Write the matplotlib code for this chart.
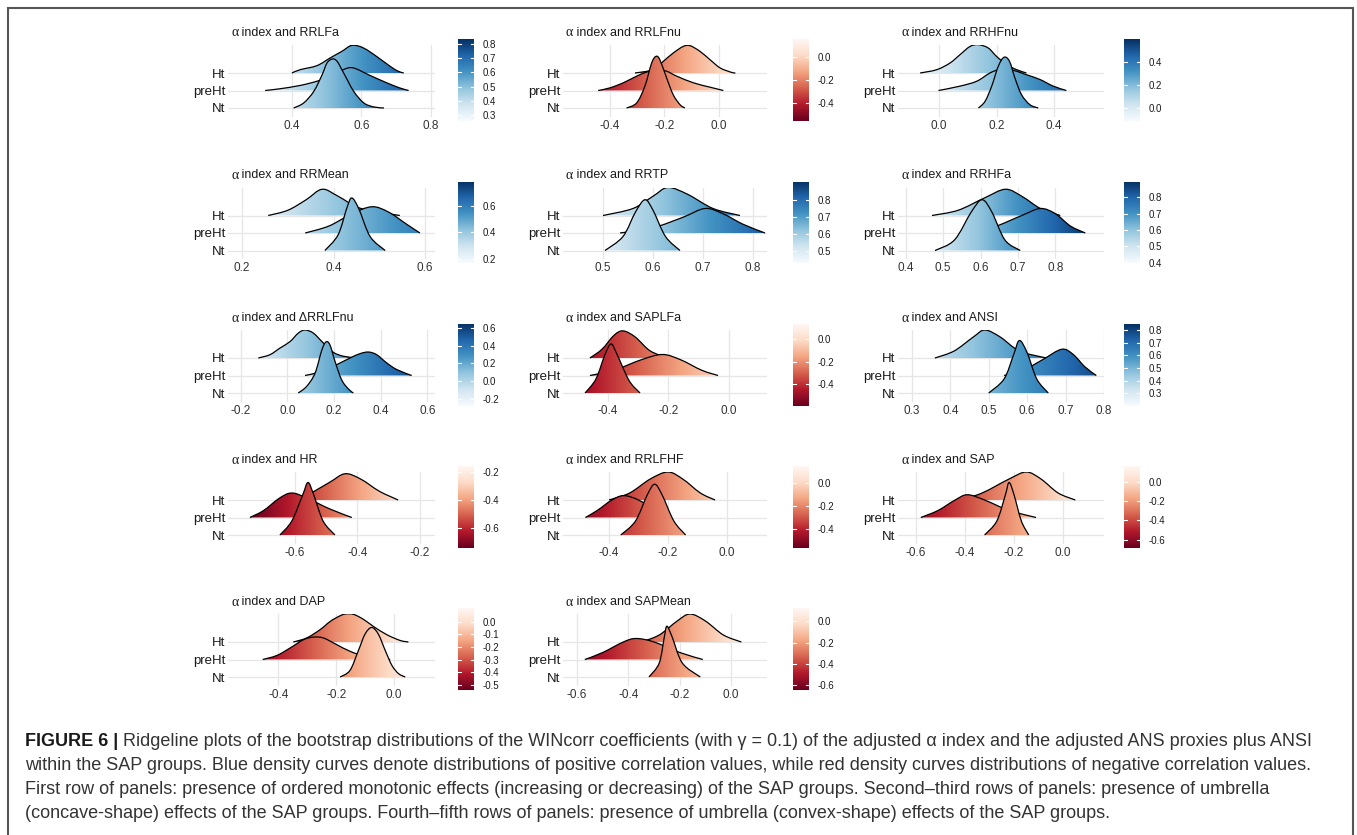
import numpy as np
import matplotlib
matplotlib.use('Agg')
import matplotlib.pyplot as plt
from matplotlib.path import Path
from matplotlib.patches import PathPatch, Rectangle
from matplotlib.colors import Normalize, LinearSegmentedColormap

plt.rcParams['font.family'] = ['Liberation Sans', 'DejaVu Sans']
plt.rcParams['axes.unicode_minus'] = False

# ---- data: (x, relative height) points ----
RRLFa_Ht = [(0.400, 0), (0.424, 0.19), (0.472, 0.42), (0.510, 0.86), (0.544, 1.24), (0.573, 1.58),
            (0.606, 1.43), (0.645, 0.93), (0.683, 0.38), (0.706, 0.10), (0.722, 0)]
RRLFa_preHt = [(0.323, 0), (0.366, 0.10), (0.424, 0.29), (0.472, 0.53), (0.520, 0.85), (0.549, 1.20),
               (0.577, 1.29), (0.625, 0.86), (0.673, 0.44), (0.710, 0.15), (0.736, 0)]
RRLFa_Nt = [(0.405, 0), (0.434, 0.29), (0.463, 0.95), (0.487, 1.90), (0.501, 2.57), (0.516, 2.80),
            (0.530, 2.67), (0.549, 2.00), (0.578, 0.95), (0.607, 0.29), (0.636, 0.06), (0.665, 0)]

RRLFnu_Ht = [(-0.308, 0), (-0.241, 0.19), (-0.204, 0.67), (-0.168, 1.14), (-0.131, 1.52), (-0.106, 1.56),
             (-0.070, 1.24), (-0.033, 0.76), (0.004, 0.29), (0.045, 0.04), (0.060, 0)]
RRLFnu_preHt = [(-0.443, 0), (-0.400, 0.15), (-0.351, 0.44), (-0.302, 0.82), (-0.266, 1.05), (-0.229, 1.2),
                (-0.192, 1.1), (-0.155, 0.82), (-0.094, 0.44), (-0.033, 0.19), (0.016, 0)]
RRLFnu_Nt = [(-0.339, 0), (-0.302, 0.29), (-0.272, 1.24), (-0.247, 2.57), (-0.231, 2.95), (-0.217, 2.76),
             (-0.192, 1.71), (-0.168, 0.76), (-0.143, 0.19), (-0.125, 0)]

RRHFnu_Ht = [(-0.066, 0), (-0.008, 0.19), (0.038, 0.57), (0.073, 1.05), (0.108, 1.52), (0.137, 1.62),
             (0.171, 1.43), (0.200, 0.95), (0.235, 0.48), (0.270, 0.19), (0.304, 0)]
RRHFnu_preHt = [(-0.002, 0), (0.073, 0.25), (0.131, 0.53), (0.177, 1.0), (0.212, 1.2), (0.258, 1.15),
                (0.304, 0.9), (0.351, 0.63), (0.397, 0.25), (0.443, 0)]
RRHFnu_Nt = [(0.137, 0), (0.160, 0.38), (0.183, 1.24), (0.206, 2.38), (0.226, 2.9), (0.245, 2.67),
             (0.264, 1.71), (0.287, 0.76), (0.316, 0.19), (0.345, 0)]

RRMean_Ht = [(0.257, 0), (0.30, 0.3), (0.34, 0.9), (0.375, 1.5), (0.41, 1.1), (0.46, 0.4), (0.545, 0)]
RRMean_preHt = [(0.338, 0), (0.39, 0.4), (0.44, 1.1), (0.484, 1.5), (0.52, 1.2), (0.56, 0.5), (0.589, 0)]
RRMean_Nt = [(0.381, 0), (0.41, 0.9), (0.43, 2.5), (0.44, 3.0), (0.455, 2.4), (0.48, 0.8), (0.513, 0)]

RRTP_Ht = [(0.50, 0), (0.56, 0.4), (0.60, 1.1), (0.63, 1.6), (0.67, 1.2), (0.72, 0.4), (0.774, 0)]
RRTP_preHt = [(0.534, 0), (0.60, 0.3), (0.66, 0.9), (0.704, 1.4), (0.74, 1.1), (0.78, 0.5), (0.824, 0)]
RRTP_Nt = [(0.504, 0), (0.54, 0.8), (0.565, 2.2), (0.584, 2.9), (0.60, 2.3), (0.625, 0.8), (0.654, 0)]

RRHFa_Ht = [(0.47, 0), (0.54, 0.3), (0.61, 1.0), (0.666, 1.5), (0.71, 1.1), (0.76, 0.4), (0.813, 0)]
RRHFa_preHt = [(0.558, 0), (0.63, 0.3), (0.71, 1.0), (0.76, 1.4), (0.80, 1.1), (0.84, 0.4), (0.88, 0)]
RRHFa_Nt = [(0.478, 0), (0.53, 0.6), (0.575, 2.2), (0.604, 2.9), (0.63, 2.2), (0.665, 0.6), (0.706, 0)]

dRRLFnu_Ht = [(-0.124, 0), (-0.074, 0.19), (-0.031, 0.57), (0.012, 0.94), (0.047, 1.42), (0.076, 1.6),
              (0.112, 1.42), (0.155, 0.85), (0.198, 0.32), (0.241, 0.1), (0.298, 0)]
dRRLFnu_preHt = [(0.076, 0), (0.126, 0.15), (0.169, 0.35), (0.212, 0.62), (0.269, 1.0), (0.312, 1.25),
                 (0.348, 1.34), (0.383, 1.19), (0.426, 0.72), (0.469, 0.34), (0.533, 0)]
dRRLFnu_Nt = [(0.047, 0), (0.083, 0.38), (0.119, 1.13), (0.148, 2.45), (0.166, 2.92), (0.183, 2.74),
              (0.205, 1.79), (0.233, 0.75), (0.262, 0.23), (0.283, 0)]

SAPLFa_Ht = [(-0.46, 0), (-0.42, 0.5), (-0.38, 1.3), (-0.35, 1.55), (-0.31, 1.2), (-0.26, 0.4), (-0.20, 0)]
SAPLFa_preHt = [(-0.46, 0), (-0.38, 0.3), (-0.29, 0.9), (-0.22, 1.2), (-0.16, 0.9), (-0.09, 0.3), (-0.036, 0)]
SAPLFa_Nt = [(-0.476, 0), (-0.44, 0.8), (-0.41, 2.2), (-0.39, 2.8), (-0.37, 2.2), (-0.33, 0.7), (-0.294, 0)]

ANSI_Ht = [(0.36, 0), (0.41, 0.4), (0.46, 1.2), (0.49, 1.6), (0.53, 1.2), (0.58, 0.4), (0.65, 0)]
ANSI_preHt = [(0.54, 0), (0.59, 0.3), (0.64, 0.9), (0.69, 1.5), (0.72, 1.2), (0.75, 0.5), (0.78, 0)]
ANSI_Nt = [(0.50, 0), (0.54, 0.8), (0.565, 2.2), (0.58, 3.0), (0.60, 2.3), (0.625, 0.8), (0.655, 0)]

HR_Ht = [(-0.616, 0), (-0.56, 0.3), (-0.49, 1.0), (-0.44, 1.5), (-0.39, 1.2), (-0.33, 0.5), (-0.27, 0)]
HR_preHt = [(-0.744, 0), (-0.70, 0.4), (-0.65, 1.1), (-0.61, 1.4), (-0.56, 1.1), (-0.49, 0.5), (-0.418, 0)]
HR_Nt = [(-0.648, 0), (-0.61, 0.8), (-0.575, 2.3), (-0.558, 3.0), (-0.54, 2.3), (-0.51, 0.8), (-0.472, 0)]

RRLFHF_Ht = [(-0.40, 0), (-0.33, 0.4), (-0.26, 1.2), (-0.20, 1.6), (-0.15, 1.2), (-0.09, 0.4), (-0.04, 0)]
RRLFHF_preHt = [(-0.48, 0), (-0.44, 0.4), (-0.39, 1.0), (-0.35, 1.25), (-0.30, 1.0), (-0.24, 0.4), (-0.19, 0)]
RRLFHF_Nt = [(-0.36, 0), (-0.31, 0.8), (-0.27, 2.3), (-0.245, 2.9), (-0.22, 2.3), (-0.18, 0.8), (-0.14, 0)]

SAP_Ht = [(-0.42, 0), (-0.33, 0.4), (-0.22, 1.2), (-0.15, 1.6), (-0.09, 1.2), (-0.02, 0.4), (0.05, 0)]
SAP_preHt = [(-0.58, 0), (-0.51, 0.4), (-0.44, 1.0), (-0.39, 1.3), (-0.32, 1.0), (-0.22, 0.4), (-0.11, 0)]
SAP_Nt = [(-0.32, 0), (-0.27, 0.8), (-0.235, 2.3), (-0.22, 3.0), (-0.20, 2.3), (-0.17, 0.8), (-0.14, 0)]

DAP_Ht = [(-0.348, 0), (-0.302, 0.23), (-0.256, 0.7), (-0.221, 1.17), (-0.192, 1.45), (-0.169, 1.6),
          (-0.140, 1.58), (-0.106, 1.3), (-0.071, 0.89), (-0.025, 0.42), (0.021, 0.09), (0.050, 0)]
DAP_preHt = [(-0.454, 0), (-0.405, 0.23), (-0.359, 0.66), (-0.313, 1.13), (-0.279, 1.28), (-0.244, 1.23),
             (-0.198, 0.85), (-0.152, 0.47), (-0.094, 0.15), (-0.013, 0)]
DAP_Nt = [(-0.186, 0), (-0.152, 0.38), (-0.123, 1.51), (-0.100, 2.45), (-0.077, 2.83), (-0.054, 2.45),
          (-0.030, 1.51), (-0.007, 0.66), (0.016, 0.19), (0.039, 0)]

SAPMean_Ht = [(-0.35, 0), (-0.28, 0.4), (-0.21, 1.2), (-0.16, 1.6), (-0.10, 1.2), (-0.03, 0.4), (0.04, 0)]
SAPMean_preHt = [(-0.57, 0), (-0.50, 0.4), (-0.42, 1.0), (-0.37, 1.2), (-0.30, 1.0), (-0.20, 0.4), (-0.11, 0)]
SAPMean_Nt = [(-0.32, 0), (-0.28, 0.8), (-0.26, 2.3), (-0.25, 2.9), (-0.23, 2.3), (-0.19, 0.8), (-0.12, 0)]

titles = ['RRLFa', 'RRLFnu', 'RRHFnu', 'RRMean', 'RRTP', 'RRHFa', '\u0394RRLFnu', 'SAPLFa', 'ANSI',
          'HR', 'RRLFHF', 'SAP', 'DAP', 'SAPMean']
curves = [
    (RRLFa_Ht, RRLFa_preHt, RRLFa_Nt), (RRLFnu_Ht, RRLFnu_preHt, RRLFnu_Nt),
    (RRHFnu_Ht, RRHFnu_preHt, RRHFnu_Nt), (RRMean_Ht, RRMean_preHt, RRMean_Nt),
    (RRTP_Ht, RRTP_preHt, RRTP_Nt), (RRHFa_Ht, RRHFa_preHt, RRHFa_Nt),
    (dRRLFnu_Ht, dRRLFnu_preHt, dRRLFnu_Nt), (SAPLFa_Ht, SAPLFa_preHt, SAPLFa_Nt),
    (ANSI_Ht, ANSI_preHt, ANSI_Nt), (HR_Ht, HR_preHt, HR_Nt),
    (RRLFHF_Ht, RRLFHF_preHt, RRLFHF_Nt), (SAP_Ht, SAP_preHt, SAP_Nt),
    (DAP_Ht, DAP_preHt, DAP_Nt), (SAPMean_Ht, SAPMean_preHt, SAPMean_Nt),
]
positive = [True, False, True, True, True, True, True, False, True, False, False, False, False, False]
x_limits = [(0.216, 0.812), (-0.572, 0.176), (-0.143, 0.574), (0.169, 0.622), (0.42, 0.828),
            (0.379, 0.93), (-0.254, 0.633), (-0.549, 0.126), (0.264, 0.795), (-0.814, -0.152),
            (-0.556, 0.136), (-0.673, 0.167), (-0.574, 0.142), (-0.655, 0.14)]
x_ticks = [[0.4, 0.6, 0.8], [-0.4, -0.2, 0.0], [0.0, 0.2, 0.4], [0.2, 0.4, 0.6], [0.5, 0.6, 0.7, 0.8],
           [0.4, 0.5, 0.6, 0.7, 0.8], [-0.2, 0.0, 0.2, 0.4, 0.6], [-0.4, -0.2, 0.0],
           [0.3, 0.4, 0.5, 0.6, 0.7, 0.8], [-0.6, -0.4, -0.2], [-0.4, -0.2, 0.0],
           [-0.6, -0.4, -0.2, 0.0], [-0.4, -0.2, 0.0], [-0.6, -0.4, -0.2, 0.0]]
cbar_limits = [(0.257, 0.836), (-0.564, 0.164), (-0.113, 0.6), (0.17, 0.778), (0.43, 0.905),
               (0.394, 0.897), (-0.28, 0.646), (-0.59, 0.13), (0.2, 0.847), (-0.74, -0.158),
               (-0.56, 0.145), (-0.685, 0.16), (-0.54, 0.11), (-0.645, 0.126)]
cbar_ticks = [[0.3, 0.4, 0.5, 0.6, 0.7, 0.8], [-0.4, -0.2, 0.0], [0.0, 0.2, 0.4], [0.2, 0.4, 0.6],
              [0.5, 0.6, 0.7, 0.8], [0.4, 0.5, 0.6, 0.7, 0.8], [-0.2, 0.0, 0.2, 0.4, 0.6],
              [-0.4, -0.2, 0.0], [0.3, 0.4, 0.5, 0.6, 0.7, 0.8], [-0.6, -0.4, -0.2],
              [-0.4, -0.2, 0.0], [-0.6, -0.4, -0.2, 0.0], [-0.5, -0.4, -0.3, -0.2, -0.1, 0.0],
              [-0.6, -0.4, -0.2, 0.0]]
groups = ['Ht', 'preHt', 'Nt']

caption_lines = [
    'Ridgeline plots of the bootstrap distributions of the WINcorr coefficients (with \u03b3 = 0.1) of the adjusted \u03b1 index and the adjusted ANS proxies plus ANSI',
    'within the SAP groups. Blue density curves denote distributions of positive correlation values, while red density curves distributions of negative correlation values.',
    'First row of panels: presence of ordered monotonic effects (increasing or decreasing) of the SAP groups. Second\u2013third rows of panels: presence of umbrella',
    '(concave-shape) effects of the SAP groups. Fourth\u2013fifth rows of panels: presence of umbrella (convex-shape) effects of the SAP groups.',
]

blues = LinearSegmentedColormap.from_list(
    'blues', ['#f7fbff', '#d1e5f0', '#92c5de', '#4393c3', '#2166ac', '#053061'])
reds = LinearSegmentedColormap.from_list(
    'reds', ['#67001f', '#b2182b', '#d6604d', '#f4a582', '#fddbc7', '#fff7f3'])

# ---- layout (pixels) ----
W, H = 1357, 835
col_left = [228, 563, 898]
col_right = [435, 767, 1104]
cbar_left = [458, 793, 1124]
row_nt = [108, 250.5, 393, 535, 677]
row_px = 17.5
y_lo, y_hi = 0.5, 4.6

fig = plt.figure(figsize=(W / 100, H / 100), dpi=100)
renderer = fig.canvas.get_renderer()


def px_axes(x0, y0, x1, y1):
    return fig.add_axes([x0 / W, 1 - y1 / H, (x1 - x0) / W, (y1 - y0) / H])


def ridge_path(pts, base):
    p = np.array(pts, dtype=float)
    p[:, 1] += base
    n = len(p)
    verts = [p[0]]
    codes = [Path.MOVETO]
    for i in range(n - 1):
        p0 = p[max(i - 1, 0)]
        p1 = p[i]
        p2 = p[i + 1]
        p3 = p[min(i + 2, n - 1)]
        verts += [p1 + (p2 - p0) / 6, p2 - (p3 - p1) / 6, p2]
        codes += [Path.CURVE4] * 3
    return verts, codes


for k in range(len(titles)):
    r, c = divmod(k, 3)
    nb = row_nt[r]
    ax = px_axes(col_left[c], nb - (y_hi - 1) * row_px, col_right[c], nb + (1 - y_lo) * row_px)
    cmap = blues if positive[k] else reds
    norm = Normalize(*cbar_limits[k])

    for t in x_ticks[k]:
        ax.axvline(t, color='#e6e6e6', lw=0.9, zorder=0)
    for yb in (1, 2, 3):
        ax.axhline(yb, color='#e6e6e6', lw=0.9, zorder=0)

    for g, pts in enumerate(curves[k]):
        base = 3 - g
        verts, codes = ridge_path(pts, base)
        xs = [v[0] for v in pts]
        hmax = max(v[1] for v in pts)
        fill_path = Path(verts + [(xs[-1], base), (xs[0], base), (xs[0], base)],
                         codes + [Path.LINETO, Path.LINETO, Path.CLOSEPOLY])
        clip = PathPatch(fill_path, fc='none', ec='none', transform=ax.transData)
        ax.add_patch(clip)
        grad = np.linspace(xs[0], xs[-1], 256)[None, :]
        im = ax.imshow(grad, extent=[xs[0], xs[-1], base - 0.05, base + hmax + 0.3], cmap=cmap,
                       norm=norm, aspect='auto', origin='lower', interpolation='bilinear',
                       zorder=2 + 2 * g)
        im.set_clip_path(clip)
        ax.add_patch(PathPatch(Path(verts, codes), fill=False, ec='black', lw=0.9, zorder=3 + 2 * g))

    ax.set_xlim(*x_limits[k])
    ax.set_ylim(y_lo, y_hi)
    ax.set_xticks(x_ticks[k])
    ax.set_xticklabels(['%.1f' % t for t in x_ticks[k]], fontsize=8.5, color='#333333')
    ax.set_yticks([3, 2, 1])
    ax.set_yticklabels(groups, fontsize=9.5, color='#1a1a1a')
    ax.tick_params(length=0, pad=2)
    for s in ax.spines.values():
        s.set_visible(False)

    # title: serif alpha as in the source, then the rest in sans
    ty = 1 - (nb - 75) / H
    a = fig.text((col_left[c] + 3) / W, ty, '\u03b1', fontsize=10, family=['Liberation Serif'],
                 va='center', ha='left', color='#1a1a1a')
    aw = a.get_window_extent(renderer).width
    fig.text((col_left[c] + 3 + aw) / W, ty, ' index and ' + titles[k],
             fontsize=9, va='center', ha='left', color='#1a1a1a')

    # colour bar
    vmin, vmax = cbar_limits[k]
    cax = px_axes(cbar_left[c], nb - 69, cbar_left[c] + 16, nb + 13)
    cax.imshow(np.linspace(vmin, vmax, 256)[:, None], extent=[0, 1, vmin, vmax], cmap=cmap,
               norm=norm, aspect='auto', origin='lower')
    for t in cbar_ticks[k]:
        cax.plot([0, 0.2], [t, t], color='white', lw=0.8)
        cax.plot([0.8, 1], [t, t], color='white', lw=0.8)
    cax.set_xlim(0, 1)
    cax.set_ylim(vmin, vmax)
    cax.set_xticks([])
    cax.yaxis.tick_right()
    cax.set_yticks(cbar_ticks[k])
    cax.set_yticklabels(['%.1f' % t for t in cbar_ticks[k]], fontsize=7, color='#1a1a1a')
    cax.tick_params(length=0, pad=6)
    for s in cax.spines.values():
        s.set_visible(False)

# frame around the figure
fig.patches.append(Rectangle((8 / W, -0.05), (1353 - 8) / W, 1.05 - 8 / H, transform=fig.transFigure,
                             fill=False, ec='#555555', lw=1.5))

# caption, sized so that the second line spans the same width as in the source
cap_y = [742, 766, 790, 814]
probe = fig.text(0, 0, caption_lines[1], fontsize=10)
cap_size = 10 * (1310 - 25) / probe.get_window_extent(renderer).width
probe.remove()
head = fig.text(25 / W, 1 - cap_y[0] / H, 'FIGURE 6 | ', fontsize=cap_size, fontweight='bold',
                color='#1a1a1a', va='center', ha='left')
hw = head.get_window_extent(renderer).width
for i, line in enumerate(caption_lines):
    x0 = 25 + (hw if i == 0 else 0)
    fig.text(x0 / W, 1 - cap_y[i] / H, line, fontsize=cap_size, color='#333333', va='center', ha='left')

fig.savefig('out.png', dpi=100)
